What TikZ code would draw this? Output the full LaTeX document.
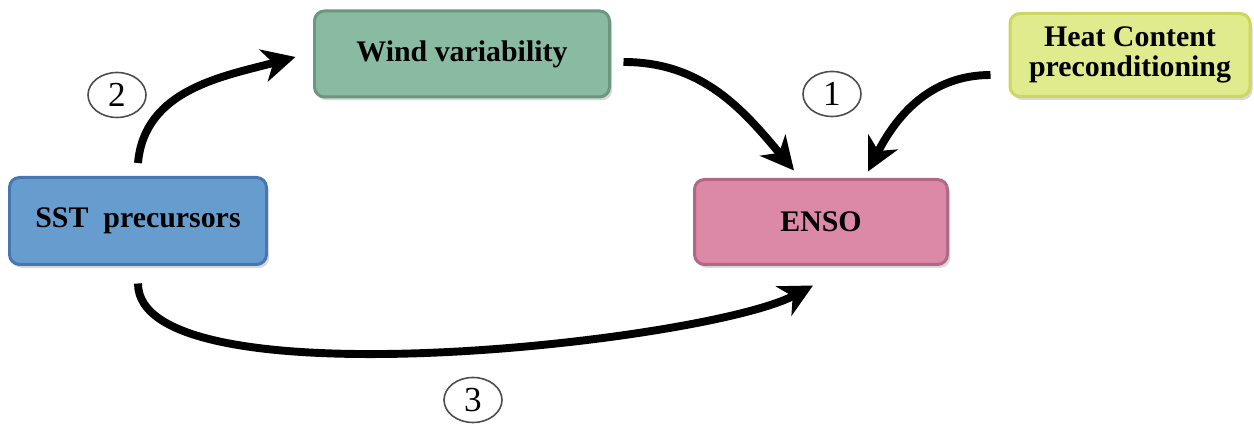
\documentclass[tikz,border=0pt]{standalone}
\usepackage{fontspec}
\setmainfont{Liberation Serif}
\usetikzlibrary{arrows.meta,shapes.geometric,shadows}
\definecolor{sstfill}{RGB}{103,157,206}
\definecolor{sstline}{RGB}{72,118,178}
\definecolor{windfill}{RGB}{136,187,161}
\definecolor{windline}{RGB}{108,150,128}
\definecolor{ensofill}{RGB}{220,136,167}
\definecolor{ensoline}{RGB}{176,104,134}
\definecolor{heatfill}{RGB}{224,235,142}
\definecolor{heatline}{RGB}{204,214,96}

\begin{document}
\begin{tikzpicture}[
	box/.style={draw, line width=1.7pt, rounded corners=0.2cm, align=center,
		font=\bfseries\fontsize{17}{17}\selectfont,
		drop shadow={opacity=0.3, shadow xshift=0.05cm, shadow yshift=-0.07cm}},
	num/.style={ellipse, draw=black!70, line width=0.9pt, fill=white, inner sep=0pt,
		minimum width=1.16cm, minimum height=0.9cm, font=\fontsize{20}{20}\selectfont},
	flow/.style={line width=4.5pt, -{Stealth[length=0.66cm, width=0.66cm, inset=0.2cm]}}]
	\useasboundingbox (0,0) rectangle (25.08,8.5);
	\node (sst) at (2.76,4.08) [box, fill=sstfill, draw=sstline, minimum width=5.14cm, minimum height=1.74cm] {SST~~precursors};
	\node (wind) at (9.24,7.42) [box, fill=windfill, draw=windline, minimum width=5.9cm, minimum height=1.72cm] {Wind variability};
	\node (enso) at (16.42,4.06) [box, fill=ensofill, draw=ensoline, minimum width=5.06cm, minimum height=1.7cm] {ENSO};
	\node (heat) at (22.6,7.4) [box, fill=heatfill, draw=heatline, minimum width=4.8cm, minimum height=1.66cm] {Heat Content\\preconditioning};
	\node (one) at (16.64,6.62) [num] {1};
	\node (two) at (2.34,6.6) [num] {2};
	\node (three) at (9.46,0.5) [num] {3};
	\draw[flow] ([yshift=0.26cm]sst.north) to[out=85,in=195] ([xshift=-0.35cm,yshift=-0.06cm]wind.west);
	\draw[flow] ([xshift=0.25cm,yshift=-0.16cm]wind.east) to[out=0,in=130] ([xshift=-0.54cm,yshift=0.15cm]enso.north);
	\draw[flow] ([xshift=-0.36cm,yshift=-0.4cm]heat.west) to[out=180,in=63] ([xshift=0.94cm,yshift=0.13cm]enso.north);
	\draw[flow] ([yshift=-0.35cm]sst.south) to[out=-90,in=208,looseness=0.46] ([xshift=-0.16cm,yshift=-0.39cm]enso.south);
\end{tikzpicture}
\end{document}
